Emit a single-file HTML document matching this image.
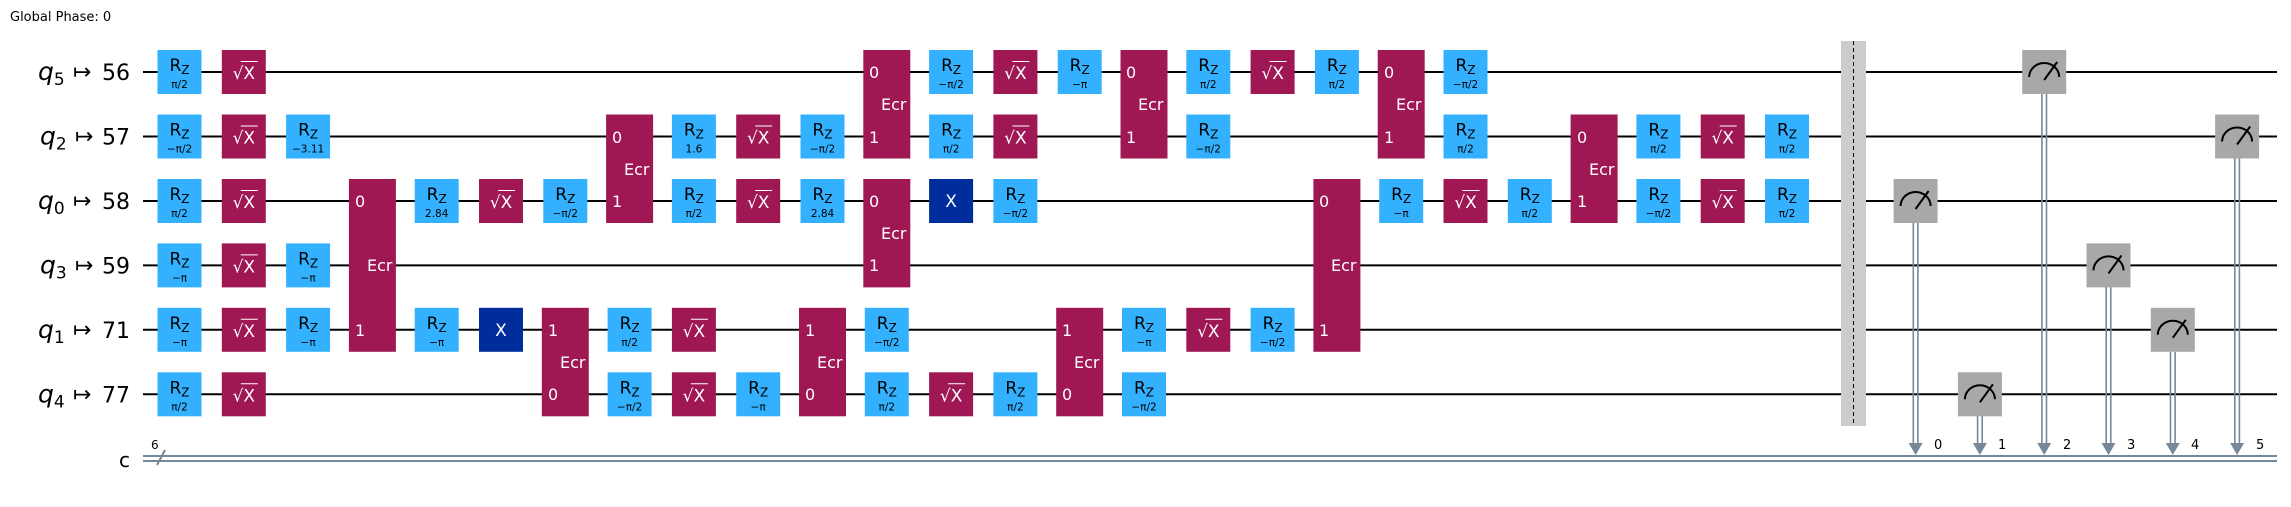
<!DOCTYPE html>
<html><head><meta charset="utf-8"><style>
html,body{margin:0;padding:0;background:#fff}
svg{display:block}
text{font-family:"DejaVu Sans","Liberation Sans",sans-serif}
.rz{fill:#33b1ff}.sx{fill:#9f1853}.xg{fill:#002d9c}.ms{fill:#a8a8a8}
.r{font-size:17px;text-anchor:middle;fill:#000}
.z{font-size:12px}
.p{font-size:10.5px;text-anchor:middle;fill:#000}
.w{font-size:17px;text-anchor:middle;fill:#fff}
.e{font-size:16px;fill:#fff}
.wire{stroke:#000;stroke-width:2}
.cl{stroke:#778899;stroke-width:2}
.ql{font-size:22px;fill:#000}
</style></head><body>
<svg width="2291" height="507" viewBox="0 0 2291 507" xmlns="http://www.w3.org/2000/svg">
<text x="10" y="21" font-size="13">Global Phase: 0</text>
<g class="wire">
<line x1="143" y1="72" x2="2277" y2="72"/>
<line x1="143" y1="136.5" x2="2277" y2="136.5"/>
<line x1="143" y1="201" x2="2277" y2="201"/>
<line x1="143" y1="265.4" x2="2277" y2="265.4"/>
<line x1="143" y1="329.8" x2="2277" y2="329.8"/>
<line x1="143" y1="394.3" x2="2277" y2="394.3"/>
</g>
<g class="cl"><line x1="143" y1="456" x2="2277" y2="456"/><line x1="143" y1="461" x2="2277" y2="461"/>
<line x1="157" y1="465" x2="165" y2="450"/></g>
<text x="151" y="449" font-size="12">6</text>
<text x="119" y="467" font-size="20">c</text>
<g class="ql">
<text x="38" y="80" font-style="italic" font-size="25">q<tspan font-size="17" dy="5" font-style="normal">5</tspan></text><text x="73" y="79">↦</text><text x="130" y="80" text-anchor="end">56</text>
<text x="40" y="144.5" font-style="italic" font-size="25">q<tspan font-size="17" dy="5" font-style="normal">2</tspan></text><text x="75" y="143.5">↦</text><text x="130" y="144.5" text-anchor="end">57</text>
<text x="38" y="209" font-style="italic" font-size="25">q<tspan font-size="17" dy="5" font-style="normal">0</tspan></text><text x="73" y="208">↦</text><text x="130" y="209" text-anchor="end">58</text>
<text x="40" y="273.4" font-style="italic" font-size="25">q<tspan font-size="17" dy="5" font-style="normal">3</tspan></text><text x="75" y="272.4">↦</text><text x="130" y="273.4" text-anchor="end">59</text>
<text x="38" y="337.8" font-style="italic" font-size="25">q<tspan font-size="17" dy="5" font-style="normal">1</tspan></text><text x="73" y="336.8">↦</text><text x="130" y="337.8" text-anchor="end">71</text>
<text x="38" y="402.3" font-style="italic" font-size="25">q<tspan font-size="17" dy="5" font-style="normal">4</tspan></text><text x="73" y="401.3">↦</text><text x="130" y="402.3" text-anchor="end">77</text>
</g>

<g transform="translate(179.5,72)"><rect class="rz" x="-22" y="-22" width="44" height="44"/><text class="r" y="-1">R<tspan class="z" dy="3">Z</tspan></text><text class="p" y="16">π/2</text></g>
<g transform="translate(179.5,136.5)"><rect class="rz" x="-22" y="-22" width="44" height="44"/><text class="r" y="-1">R<tspan class="z" dy="3">Z</tspan></text><text class="p" y="16">−π/2</text></g>
<g transform="translate(179.5,201)"><rect class="rz" x="-22" y="-22" width="44" height="44"/><text class="r" y="-1">R<tspan class="z" dy="3">Z</tspan></text><text class="p" y="16">π/2</text></g>
<g transform="translate(179.5,265.4)"><rect class="rz" x="-22" y="-22" width="44" height="44"/><text class="r" y="-1">R<tspan class="z" dy="3">Z</tspan></text><text class="p" y="16">−π</text></g>
<g transform="translate(179.5,329.8)"><rect class="rz" x="-22" y="-22" width="44" height="44"/><text class="r" y="-1">R<tspan class="z" dy="3">Z</tspan></text><text class="p" y="16">−π</text></g>
<g transform="translate(179.5,394.3)"><rect class="rz" x="-22" y="-22" width="44" height="44"/><text class="r" y="-1">R<tspan class="z" dy="3">Z</tspan></text><text class="p" y="16">π/2</text></g>
<g transform="translate(308.1,136.5)"><rect class="rz" x="-22" y="-22" width="44" height="44"/><text class="r" y="-1">R<tspan class="z" dy="3">Z</tspan></text><text class="p" y="16">−3.11</text></g>
<g transform="translate(308.1,265.4)"><rect class="rz" x="-22" y="-22" width="44" height="44"/><text class="r" y="-1">R<tspan class="z" dy="3">Z</tspan></text><text class="p" y="16">−π</text></g>
<g transform="translate(308.1,329.8)"><rect class="rz" x="-22" y="-22" width="44" height="44"/><text class="r" y="-1">R<tspan class="z" dy="3">Z</tspan></text><text class="p" y="16">−π</text></g>
<g transform="translate(436.7,201)"><rect class="rz" x="-22" y="-22" width="44" height="44"/><text class="r" y="-1">R<tspan class="z" dy="3">Z</tspan></text><text class="p" y="16">2.84</text></g>
<g transform="translate(436.7,329.8)"><rect class="rz" x="-22" y="-22" width="44" height="44"/><text class="r" y="-1">R<tspan class="z" dy="3">Z</tspan></text><text class="p" y="16">−π</text></g>
<g transform="translate(565.3,201)"><rect class="rz" x="-22" y="-22" width="44" height="44"/><text class="r" y="-1">R<tspan class="z" dy="3">Z</tspan></text><text class="p" y="16">−π/2</text></g>
<g transform="translate(629.6,329.8)"><rect class="rz" x="-22" y="-22" width="44" height="44"/><text class="r" y="-1">R<tspan class="z" dy="3">Z</tspan></text><text class="p" y="16">π/2</text></g>
<g transform="translate(629.6,394.3)"><rect class="rz" x="-22" y="-22" width="44" height="44"/><text class="r" y="-1">R<tspan class="z" dy="3">Z</tspan></text><text class="p" y="16">−π/2</text></g>
<g transform="translate(693.9,136.5)"><rect class="rz" x="-22" y="-22" width="44" height="44"/><text class="r" y="-1">R<tspan class="z" dy="3">Z</tspan></text><text class="p" y="16">1.6</text></g>
<g transform="translate(693.9,201)"><rect class="rz" x="-22" y="-22" width="44" height="44"/><text class="r" y="-1">R<tspan class="z" dy="3">Z</tspan></text><text class="p" y="16">π/2</text></g>
<g transform="translate(758.2,394.3)"><rect class="rz" x="-22" y="-22" width="44" height="44"/><text class="r" y="-1">R<tspan class="z" dy="3">Z</tspan></text><text class="p" y="16">−π</text></g>
<g transform="translate(822.5,136.5)"><rect class="rz" x="-22" y="-22" width="44" height="44"/><text class="r" y="-1">R<tspan class="z" dy="3">Z</tspan></text><text class="p" y="16">−π/2</text></g>
<g transform="translate(822.5,201)"><rect class="rz" x="-22" y="-22" width="44" height="44"/><text class="r" y="-1">R<tspan class="z" dy="3">Z</tspan></text><text class="p" y="16">2.84</text></g>
<g transform="translate(886.8,329.8)"><rect class="rz" x="-22" y="-22" width="44" height="44"/><text class="r" y="-1">R<tspan class="z" dy="3">Z</tspan></text><text class="p" y="16">−π/2</text></g>
<g transform="translate(886.8,394.3)"><rect class="rz" x="-22" y="-22" width="44" height="44"/><text class="r" y="-1">R<tspan class="z" dy="3">Z</tspan></text><text class="p" y="16">π/2</text></g>
<g transform="translate(951.1,72)"><rect class="rz" x="-22" y="-22" width="44" height="44"/><text class="r" y="-1">R<tspan class="z" dy="3">Z</tspan></text><text class="p" y="16">−π/2</text></g>
<g transform="translate(951.1,136.5)"><rect class="rz" x="-22" y="-22" width="44" height="44"/><text class="r" y="-1">R<tspan class="z" dy="3">Z</tspan></text><text class="p" y="16">π/2</text></g>
<g transform="translate(1015.4,201)"><rect class="rz" x="-22" y="-22" width="44" height="44"/><text class="r" y="-1">R<tspan class="z" dy="3">Z</tspan></text><text class="p" y="16">−π/2</text></g>
<g transform="translate(1015.4,394.3)"><rect class="rz" x="-22" y="-22" width="44" height="44"/><text class="r" y="-1">R<tspan class="z" dy="3">Z</tspan></text><text class="p" y="16">π/2</text></g>
<g transform="translate(1079.7,72)"><rect class="rz" x="-22" y="-22" width="44" height="44"/><text class="r" y="-1">R<tspan class="z" dy="3">Z</tspan></text><text class="p" y="16">−π</text></g>
<g transform="translate(1144,329.8)"><rect class="rz" x="-22" y="-22" width="44" height="44"/><text class="r" y="-1">R<tspan class="z" dy="3">Z</tspan></text><text class="p" y="16">−π</text></g>
<g transform="translate(1144,394.3)"><rect class="rz" x="-22" y="-22" width="44" height="44"/><text class="r" y="-1">R<tspan class="z" dy="3">Z</tspan></text><text class="p" y="16">−π/2</text></g>
<g transform="translate(1208.3,72)"><rect class="rz" x="-22" y="-22" width="44" height="44"/><text class="r" y="-1">R<tspan class="z" dy="3">Z</tspan></text><text class="p" y="16">π/2</text></g>
<g transform="translate(1208.3,136.5)"><rect class="rz" x="-22" y="-22" width="44" height="44"/><text class="r" y="-1">R<tspan class="z" dy="3">Z</tspan></text><text class="p" y="16">−π/2</text></g>
<g transform="translate(1272.6,329.8)"><rect class="rz" x="-22" y="-22" width="44" height="44"/><text class="r" y="-1">R<tspan class="z" dy="3">Z</tspan></text><text class="p" y="16">−π/2</text></g>
<g transform="translate(1336.9,72)"><rect class="rz" x="-22" y="-22" width="44" height="44"/><text class="r" y="-1">R<tspan class="z" dy="3">Z</tspan></text><text class="p" y="16">π/2</text></g>
<g transform="translate(1401.2,201)"><rect class="rz" x="-22" y="-22" width="44" height="44"/><text class="r" y="-1">R<tspan class="z" dy="3">Z</tspan></text><text class="p" y="16">−π</text></g>
<g transform="translate(1465.5,72)"><rect class="rz" x="-22" y="-22" width="44" height="44"/><text class="r" y="-1">R<tspan class="z" dy="3">Z</tspan></text><text class="p" y="16">−π/2</text></g>
<g transform="translate(1465.5,136.5)"><rect class="rz" x="-22" y="-22" width="44" height="44"/><text class="r" y="-1">R<tspan class="z" dy="3">Z</tspan></text><text class="p" y="16">π/2</text></g>
<g transform="translate(1529.8,201)"><rect class="rz" x="-22" y="-22" width="44" height="44"/><text class="r" y="-1">R<tspan class="z" dy="3">Z</tspan></text><text class="p" y="16">π/2</text></g>
<g transform="translate(1658.4,136.5)"><rect class="rz" x="-22" y="-22" width="44" height="44"/><text class="r" y="-1">R<tspan class="z" dy="3">Z</tspan></text><text class="p" y="16">π/2</text></g>
<g transform="translate(1658.4,201)"><rect class="rz" x="-22" y="-22" width="44" height="44"/><text class="r" y="-1">R<tspan class="z" dy="3">Z</tspan></text><text class="p" y="16">−π/2</text></g>
<g transform="translate(1787,136.5)"><rect class="rz" x="-22" y="-22" width="44" height="44"/><text class="r" y="-1">R<tspan class="z" dy="3">Z</tspan></text><text class="p" y="16">π/2</text></g>
<g transform="translate(1787,201)"><rect class="rz" x="-22" y="-22" width="44" height="44"/><text class="r" y="-1">R<tspan class="z" dy="3">Z</tspan></text><text class="p" y="16">π/2</text></g>

<g transform="translate(243.8,72)"><rect class="sx" x="-22" y="-22" width="44" height="44"/><text class="w" y="7">√X</text><line x1="-3" y1="-10.5" x2="14" y2="-10.5" stroke="#fff" stroke-width="1"/></g>
<g transform="translate(243.8,136.5)"><rect class="sx" x="-22" y="-22" width="44" height="44"/><text class="w" y="7">√X</text><line x1="-3" y1="-10.5" x2="14" y2="-10.5" stroke="#fff" stroke-width="1"/></g>
<g transform="translate(243.8,201)"><rect class="sx" x="-22" y="-22" width="44" height="44"/><text class="w" y="7">√X</text><line x1="-3" y1="-10.5" x2="14" y2="-10.5" stroke="#fff" stroke-width="1"/></g>
<g transform="translate(243.8,265.4)"><rect class="sx" x="-22" y="-22" width="44" height="44"/><text class="w" y="7">√X</text><line x1="-3" y1="-10.5" x2="14" y2="-10.5" stroke="#fff" stroke-width="1"/></g>
<g transform="translate(243.8,329.8)"><rect class="sx" x="-22" y="-22" width="44" height="44"/><text class="w" y="7">√X</text><line x1="-3" y1="-10.5" x2="14" y2="-10.5" stroke="#fff" stroke-width="1"/></g>
<g transform="translate(243.8,394.3)"><rect class="sx" x="-22" y="-22" width="44" height="44"/><text class="w" y="7">√X</text><line x1="-3" y1="-10.5" x2="14" y2="-10.5" stroke="#fff" stroke-width="1"/></g>
<g transform="translate(501,201)"><rect class="sx" x="-22" y="-22" width="44" height="44"/><text class="w" y="7">√X</text><line x1="-3" y1="-10.5" x2="14" y2="-10.5" stroke="#fff" stroke-width="1"/></g>
<g transform="translate(693.9,329.8)"><rect class="sx" x="-22" y="-22" width="44" height="44"/><text class="w" y="7">√X</text><line x1="-3" y1="-10.5" x2="14" y2="-10.5" stroke="#fff" stroke-width="1"/></g>
<g transform="translate(693.9,394.3)"><rect class="sx" x="-22" y="-22" width="44" height="44"/><text class="w" y="7">√X</text><line x1="-3" y1="-10.5" x2="14" y2="-10.5" stroke="#fff" stroke-width="1"/></g>
<g transform="translate(758.2,136.5)"><rect class="sx" x="-22" y="-22" width="44" height="44"/><text class="w" y="7">√X</text><line x1="-3" y1="-10.5" x2="14" y2="-10.5" stroke="#fff" stroke-width="1"/></g>
<g transform="translate(758.2,201)"><rect class="sx" x="-22" y="-22" width="44" height="44"/><text class="w" y="7">√X</text><line x1="-3" y1="-10.5" x2="14" y2="-10.5" stroke="#fff" stroke-width="1"/></g>
<g transform="translate(951.1,394.3)"><rect class="sx" x="-22" y="-22" width="44" height="44"/><text class="w" y="7">√X</text><line x1="-3" y1="-10.5" x2="14" y2="-10.5" stroke="#fff" stroke-width="1"/></g>
<g transform="translate(1015.4,72)"><rect class="sx" x="-22" y="-22" width="44" height="44"/><text class="w" y="7">√X</text><line x1="-3" y1="-10.5" x2="14" y2="-10.5" stroke="#fff" stroke-width="1"/></g>
<g transform="translate(1015.4,136.5)"><rect class="sx" x="-22" y="-22" width="44" height="44"/><text class="w" y="7">√X</text><line x1="-3" y1="-10.5" x2="14" y2="-10.5" stroke="#fff" stroke-width="1"/></g>
<g transform="translate(1208.3,329.8)"><rect class="sx" x="-22" y="-22" width="44" height="44"/><text class="w" y="7">√X</text><line x1="-3" y1="-10.5" x2="14" y2="-10.5" stroke="#fff" stroke-width="1"/></g>
<g transform="translate(1272.6,72)"><rect class="sx" x="-22" y="-22" width="44" height="44"/><text class="w" y="7">√X</text><line x1="-3" y1="-10.5" x2="14" y2="-10.5" stroke="#fff" stroke-width="1"/></g>
<g transform="translate(1465.5,201)"><rect class="sx" x="-22" y="-22" width="44" height="44"/><text class="w" y="7">√X</text><line x1="-3" y1="-10.5" x2="14" y2="-10.5" stroke="#fff" stroke-width="1"/></g>
<g transform="translate(1722.7,136.5)"><rect class="sx" x="-22" y="-22" width="44" height="44"/><text class="w" y="7">√X</text><line x1="-3" y1="-10.5" x2="14" y2="-10.5" stroke="#fff" stroke-width="1"/></g>
<g transform="translate(1722.7,201)"><rect class="sx" x="-22" y="-22" width="44" height="44"/><text class="w" y="7">√X</text><line x1="-3" y1="-10.5" x2="14" y2="-10.5" stroke="#fff" stroke-width="1"/></g>

<g transform="translate(501,329.8)"><rect class="xg" x="-22" y="-22" width="44" height="44"/><text class="w" y="6">X</text></g>
<g transform="translate(951.1,201)"><rect class="xg" x="-22" y="-22" width="44" height="44"/><text class="w" y="6">X</text></g>

<g class="e">
<rect class="sx" x="348.9" y="179" width="47" height="172.8"/><text x="355" y="207">0</text><text x="355" y="336">1</text><text x="367" y="271">Ecr</text>
<rect class="sx" x="541.8" y="307.8" width="47" height="108.5"/><text x="548" y="336">1</text><text x="548" y="400">0</text><text x="560" y="368">Ecr</text>
<rect class="sx" x="606.1" y="114.5" width="47" height="108.5"/><text x="612" y="143">0</text><text x="612" y="207">1</text><text x="624" y="175">Ecr</text>
<rect class="sx" x="799" y="307.8" width="47" height="108.5"/><text x="805" y="336">1</text><text x="805" y="400">0</text><text x="817" y="368">Ecr</text>
<rect class="sx" x="863.3" y="50" width="47" height="108.5"/><text x="869" y="78">0</text><text x="869" y="143">1</text><text x="881" y="110">Ecr</text>
<rect class="sx" x="863.3" y="179" width="47" height="108.4"/><text x="869" y="207">0</text><text x="869" y="271">1</text><text x="881" y="239">Ecr</text>
<rect class="sx" x="1056.2" y="307.8" width="47" height="108.5"/><text x="1062" y="336">1</text><text x="1062" y="400">0</text><text x="1074" y="368">Ecr</text>
<rect class="sx" x="1120.5" y="50" width="47" height="108.5"/><text x="1126" y="78">0</text><text x="1126" y="143">1</text><text x="1138" y="110">Ecr</text>
<rect class="sx" x="1313.4" y="179" width="47" height="172.8"/><text x="1319" y="207">0</text><text x="1319" y="336">1</text><text x="1331" y="271">Ecr</text>
<rect class="sx" x="1377.7" y="50" width="47" height="108.5"/><text x="1384" y="78">0</text><text x="1384" y="143">1</text><text x="1396" y="110">Ecr</text>
<rect class="sx" x="1570.6" y="114.5" width="47" height="108.5"/><text x="1577" y="143">0</text><text x="1577" y="207">1</text><text x="1589" y="175">Ecr</text>
</g>

<rect x="1841" y="41" width="25" height="385" fill="#cccccc"/>
<line x1="1853.5" y1="41" x2="1853.5" y2="426" stroke="#000" stroke-width="1" stroke-dasharray="4,3"/>

<g stroke="#778899" stroke-width="1.6">
<line x1="1913.3" y1="223" x2="1913.3" y2="446"/><line x1="1917.9" y1="223" x2="1917.9" y2="446"/>
<line x1="1977.6" y1="416" x2="1977.6" y2="446"/><line x1="1982.2" y1="416" x2="1982.2" y2="446"/>
<line x1="2041.9" y1="94" x2="2041.9" y2="446"/><line x1="2046.5" y1="94" x2="2046.5" y2="446"/>
<line x1="2106.2" y1="287" x2="2106.2" y2="446"/><line x1="2110.8" y1="287" x2="2110.8" y2="446"/>
<line x1="2170.5" y1="352" x2="2170.5" y2="446"/><line x1="2175.1" y1="352" x2="2175.1" y2="446"/>
<line x1="2234.8" y1="158" x2="2234.8" y2="446"/><line x1="2239.4" y1="158" x2="2239.4" y2="446"/>
</g>
<g fill="#778899">
<polygon points="1908.6,443 1922.6,443 1915.6,455"/>
<polygon points="1972.9,443 1986.9,443 1979.9,455"/>
<polygon points="2037.2,443 2051.2,443 2044.2,455"/>
<polygon points="2101.5,443 2115.5,443 2108.5,455"/>
<polygon points="2165.8,443 2179.8,443 2172.8,455"/>
<polygon points="2230.1,443 2244.1,443 2237.1,455"/>
</g>
<g font-size="13">
<text x="1934" y="449">0</text><text x="1998" y="449">1</text><text x="2063" y="449">2</text><text x="2127" y="449">3</text><text x="2191" y="449">4</text><text x="2256" y="449">5</text>
</g>
<g fill="none" stroke="#000" stroke-width="2">
<g transform="translate(1915.6,201)"><rect class="ms" x="-22" y="-22" width="44" height="44" stroke="none"/><path d="M-15,5 A15,14 0 0 1 15,5"/><line x1="0" y1="8" x2="13" y2="-10"/></g>
<g transform="translate(1979.9,394.3)"><rect class="ms" x="-22" y="-22" width="44" height="44" stroke="none"/><path d="M-15,5 A15,14 0 0 1 15,5"/><line x1="0" y1="8" x2="13" y2="-10"/></g>
<g transform="translate(2044.2,72)"><rect class="ms" x="-22" y="-22" width="44" height="44" stroke="none"/><path d="M-15,5 A15,14 0 0 1 15,5"/><line x1="0" y1="8" x2="13" y2="-10"/></g>
<g transform="translate(2108.5,265.4)"><rect class="ms" x="-22" y="-22" width="44" height="44" stroke="none"/><path d="M-15,5 A15,14 0 0 1 15,5"/><line x1="0" y1="8" x2="13" y2="-10"/></g>
<g transform="translate(2172.8,329.8)"><rect class="ms" x="-22" y="-22" width="44" height="44" stroke="none"/><path d="M-15,5 A15,14 0 0 1 15,5"/><line x1="0" y1="8" x2="13" y2="-10"/></g>
<g transform="translate(2237.1,136.5)"><rect class="ms" x="-22" y="-22" width="44" height="44" stroke="none"/><path d="M-15,5 A15,14 0 0 1 15,5"/><line x1="0" y1="8" x2="13" y2="-10"/></g>
</g>
</svg>
</body></html>
